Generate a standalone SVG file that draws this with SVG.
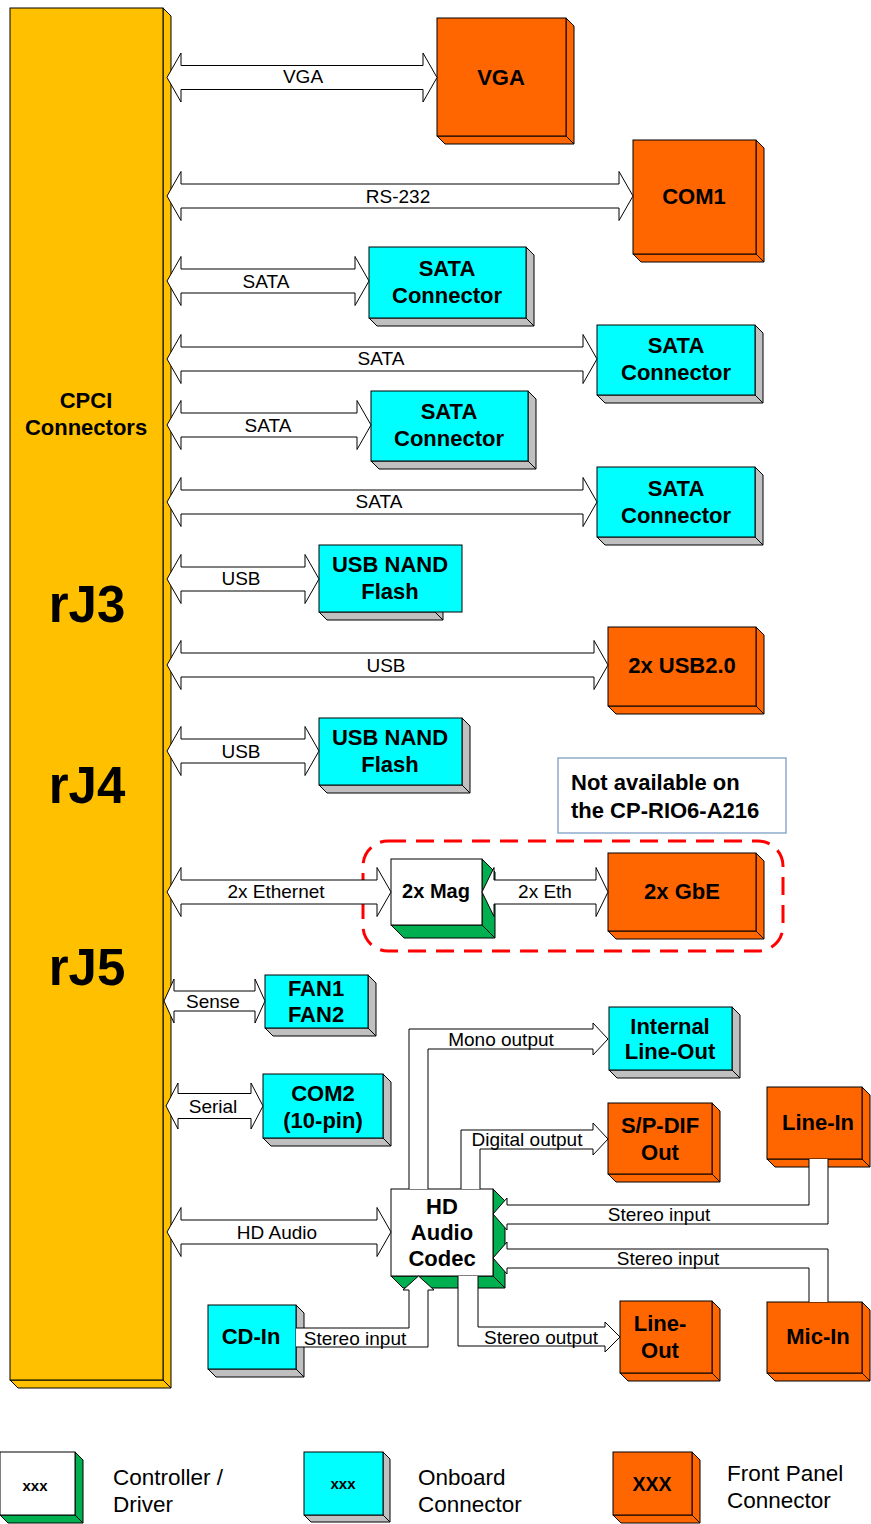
<svg xmlns="http://www.w3.org/2000/svg" width="871" height="1524" viewBox="0 0 871 1524">
<style>
.f{stroke:#000;stroke-width:1;stroke-linejoin:miter}
.y{fill:#FFC000}.o{fill:#FF6600}.c{fill:#00FFFF}.g{fill:#C0C0C0}.w{fill:#FFFFFF}.gr{fill:#00B050}
.a{fill:#FFFFFF;stroke:#000;stroke-width:1}
.l{font-family:"Liberation Sans",Arial,sans-serif;font-size:19px;text-anchor:middle;fill:#000}
.b{font-family:"Liberation Sans",Arial,sans-serif;font-size:22px;font-weight:bold;text-anchor:middle;fill:#000}
.big{font-family:"Liberation Sans",Arial,sans-serif;font-size:51px;font-weight:bold;text-anchor:middle;fill:#000}
.lg{font-family:"Liberation Sans",Arial,sans-serif;font-size:22.5px;fill:#000}
.nt{font-family:"Liberation Sans",Arial,sans-serif;font-size:22px;font-weight:bold;fill:#000}
</style>
<rect width="871" height="1524" fill="#FFFFFF"/>
<g id="cpci">
<polygon class="f y" points="163,8 171,16 171,1388 163,1380"/>
<polygon class="f y" points="10,1380 163,1380 171,1388 18,1388"/>
<rect class="f y" x="10" y="8" width="153" height="1372"/>
<text class="b" x="86" y="408">CPCI</text>
<text class="b" x="86" y="435">Connectors</text>
<text class="big" x="87" y="622">rJ3</text>
<text class="big" x="87" y="803">rJ4</text>
<text class="big" x="87" y="985">rJ5</text>
</g>
<g id="vga">
<polygon class="f o" points="566,18 574,26 574,144 566,136"/>
<polygon class="f o" points="437,136 566,136 574,144 445,144"/>
<rect class="f o" x="437" y="18" width="129" height="118"/>
<text class="b" x="501" y="85">VGA</text>
</g>
<g id="com1">
<polygon class="f o" points="756,140 764,148 764,262 756,254"/>
<polygon class="f o" points="633,254 756,254 764,262 641,262"/>
<rect class="f o" x="633" y="140" width="123" height="114"/>
<text class="b" x="694" y="204">COM1</text>
</g>
<g id="sata1">
<polygon class="f g" points="526,247 534,255 534,326 526,318"/>
<polygon class="f g" points="369,318 526,318 534,326 377,326"/>
<rect class="f c" x="369" y="247" width="157" height="71"/>
<text class="b" x="447" y="276">SATA</text>
<text class="b" x="447" y="303">Connector</text>
</g>
<g id="sata2">
<polygon class="f g" points="755,325 763,333 763,403 755,395"/>
<polygon class="f g" points="597,395 755,395 763,403 605,403"/>
<rect class="f c" x="597" y="325" width="158" height="70"/>
<text class="b" x="676" y="353">SATA</text>
<text class="b" x="676" y="380">Connector</text>
</g>
<g id="sata3">
<polygon class="f g" points="528,391 536,399 536,469 528,461"/>
<polygon class="f g" points="371,461 528,461 536,469 379,469"/>
<rect class="f c" x="371" y="391" width="157" height="70"/>
<text class="b" x="449" y="419">SATA</text>
<text class="b" x="449" y="446">Connector</text>
</g>
<g id="sata4">
<polygon class="f g" points="755,467 763,475 763,545 755,537"/>
<polygon class="f g" points="597,537 755,537 763,545 605,545"/>
<rect class="f c" x="597" y="467" width="158" height="70"/>
<text class="b" x="676" y="496">SATA</text>
<text class="b" x="676" y="523">Connector</text>
</g>
<g id="nand1">
<polygon class="f g" points="435,545 443,553 443,620 435,612"/>
<polygon class="f g" points="319,612 435,612 443,620 327,620"/>
<rect class="f c" x="319" y="545" width="143" height="67"/>
<text class="b" x="390" y="572">USB NAND</text>
<text class="b" x="390" y="599">Flash</text>
</g>
<g id="usb20">
<polygon class="f o" points="756,627 764,635 764,714 756,706"/>
<polygon class="f o" points="608,706 756,706 764,714 616,714"/>
<rect class="f o" x="608" y="627" width="148" height="79"/>
<text class="b" x="682" y="673">2x USB2.0</text>
</g>
<g id="nand2">
<polygon class="f g" points="462,718 470,726 470,793 462,785"/>
<polygon class="f g" points="319,785 462,785 470,793 327,793"/>
<rect class="f c" x="319" y="718" width="143" height="67"/>
<text class="b" x="390" y="745">USB NAND</text>
<text class="b" x="390" y="772">Flash</text>
</g>
<g id="note">
<rect x="558" y="758" width="228" height="75" fill="#FFFFFF" stroke="#8FAACC" stroke-width="1.5"/>
<text class="nt" x="571" y="790">Not available on</text>
<text class="nt" x="571" y="818">the CP-RIO6-A216</text>
</g>
<g id="na-area">
<rect x="363" y="841" width="420" height="110" rx="25" ry="25" fill="none" stroke="#FF0000" stroke-width="3" stroke-dasharray="18 10"/>
</g>
<g id="mag">
<polygon class="f gr" points="482,859 495,872 495,938 482,925"/>
<polygon class="f gr" points="391,925 482,925 495,938 404,938"/>
<rect class="f w" x="391" y="859" width="91" height="66"/>
<text class="b" x="436" y="898" style="font-size:20px">2x Mag</text>
</g>
<g id="gbe">
<polygon class="f o" points="756,853 764,861 764,939 756,931"/>
<polygon class="f o" points="608,931 756,931 764,939 616,939"/>
<rect class="f o" x="608" y="853" width="148" height="78"/>
<text class="b" x="682" y="899">2x GbE</text>
</g>
<g id="fan">
<polygon class="f g" points="368,975 376,983 376,1036 368,1028"/>
<polygon class="f g" points="265,1028 368,1028 376,1036 273,1036"/>
<rect class="f c" x="265" y="975" width="103" height="53"/>
<text class="b" x="316" y="996">FAN1</text>
<text class="b" x="316" y="1022">FAN2</text>
</g>
<g id="com2">
<polygon class="f g" points="383,1074 391,1082 391,1146 383,1138"/>
<polygon class="f g" points="263,1138 383,1138 391,1146 271,1146"/>
<rect class="f c" x="263" y="1074" width="120" height="64"/>
<text class="b" x="323" y="1101">COM2</text>
<text class="b" x="323" y="1128">(10-pin)</text>
</g>
<g id="ilo">
<polygon class="f g" points="732,1007 740,1015 740,1078 732,1070"/>
<polygon class="f g" points="609,1070 732,1070 740,1078 617,1078"/>
<rect class="f c" x="609" y="1007" width="123" height="63"/>
<text class="b" x="670" y="1034">Internal</text>
<text class="b" x="670" y="1059">Line-Out</text>
</g>
<g id="spdif">
<polygon class="f o" points="712,1103 720,1111 720,1182 712,1174"/>
<polygon class="f o" points="608,1174 712,1174 720,1182 616,1182"/>
<rect class="f o" x="608" y="1103" width="104" height="71"/>
<text class="b" x="660" y="1133">S/P-DIF</text>
<text class="b" x="660" y="1160">Out</text>
</g>
<g id="linein">
<polygon class="f o" points="862,1087 870,1095 870,1167 862,1159"/>
<polygon class="f o" points="767,1159 862,1159 870,1167 775,1167"/>
<rect class="f o" x="767" y="1087" width="95" height="72"/>
<text class="b" x="818" y="1130">Line-In</text>
</g>
<g id="codec">
<polygon class="f gr" points="493,1189 505,1201 505,1288 493,1276"/>
<polygon class="f gr" points="391,1276 493,1276 505,1288 403,1288"/>
<rect class="f w" x="391" y="1189" width="102" height="87"/>
<text class="b" x="442" y="1214">HD</text>
<text class="b" x="442" y="1240">Audio</text>
<text class="b" x="442" y="1266">Codec</text>
</g>
<g id="lineout">
<polygon class="f o" points="712,1301 720,1309 720,1381 712,1373"/>
<polygon class="f o" points="620,1373 712,1373 720,1381 628,1381"/>
<rect class="f o" x="620" y="1301" width="92" height="72"/>
<text class="b" x="660" y="1331">Line-</text>
<text class="b" x="660" y="1358">Out</text>
</g>
<g id="micin">
<polygon class="f o" points="862,1302 870,1310 870,1381 862,1373"/>
<polygon class="f o" points="767,1373 862,1373 870,1381 775,1381"/>
<rect class="f o" x="767" y="1302" width="95" height="71"/>
<text class="b" x="818" y="1344">Mic-In</text>
</g>
<g id="cdin">
<polygon class="f g" points="296,1305 304,1313 304,1377 296,1369"/>
<polygon class="f g" points="208,1369 296,1369 304,1377 216,1377"/>
<rect class="f c" x="208" y="1305" width="88" height="64"/>
<text class="b" x="251" y="1344">CD-In</text>
</g>
<g id="connectors">
<path class="a" d="M167,77.5 L181,53 L181,65.5 L423,65.5 L423,53 L437,77.5 L423,102 L423,89.5 L181,89.5 L181,102 Z"/>
<path class="a" d="M167,196 L181,171.5 L181,184 L619,184 L619,171.5 L633,196 L619,220.5 L619,208 L181,208 L181,220.5 Z"/>
<path class="a" d="M167,281 L181,256.5 L181,269 L355,269 L355,256.5 L369,281 L355,305.5 L355,293 L181,293 L181,305.5 Z"/>
<path class="a" d="M167,359 L181,334.5 L181,347 L583,347 L583,334.5 L597,359 L583,383.5 L583,371 L181,371 L181,383.5 Z"/>
<path class="a" d="M167,425 L181,400.5 L181,413 L357,413 L357,400.5 L371,425 L357,449.5 L357,437 L181,437 L181,449.5 Z"/>
<path class="a" d="M167,502 L181,477.5 L181,490 L583,490 L583,477.5 L597,502 L583,526.5 L583,514 L181,514 L181,526.5 Z"/>
<path class="a" d="M167,579 L181,554.5 L181,567 L305,567 L305,554.5 L319,579 L305,603.5 L305,591 L181,591 L181,603.5 Z"/>
<path class="a" d="M167,665 L181,640.5 L181,653 L594,653 L594,640.5 L608,665 L594,689.5 L594,677 L181,677 L181,689.5 Z"/>
<path class="a" d="M167,751 L181,726.5 L181,739 L305,739 L305,726.5 L319,751 L305,775.5 L305,763 L181,763 L181,775.5 Z"/>
<path class="a" d="M167,892 L181,867.5 L181,880 L377,880 L377,867.5 L391,892 L377,916.5 L377,904 L181,904 L181,916.5 Z"/>
<path class="a" d="M482,892 L494,867.5 L494,880 L596,880 L596,867.5 L608,892 L596,916.5 L596,904 L494,904 L494,916.5 Z"/>
<path class="a" d="M164,1001 L174,979 L174,991 L255,991 L255,979 L265,1001 L255,1023 L255,1011 L174,1011 L174,1023 Z"/>
<path class="a" d="M166,1106 L178,1083 L178,1093.5 L251,1093.5 L251,1083 L263,1106 L251,1129 L251,1118.5 L178,1118.5 L178,1129 Z"/>
<path class="a" d="M167,1232 L181,1207.5 L181,1220 L377,1220 L377,1207.5 L391,1232 L377,1256.5 L377,1244 L181,1244 L181,1256.5 Z"/>
<path class="a" d="M409,1189 L409,1029 L593,1029 L593,1023 L608,1039 L593,1055 L593,1049 L428,1049 L428,1189"/>
<path class="a" d="M461,1189 L461,1130 L593,1130 L593,1123 L608,1139 L593,1155 L593,1149 L480,1149 L480,1189"/>
<path class="a" d="M809,1159 L809,1205 L507,1205 L507,1198 L493,1214 L507,1230 L507,1224 L828,1224 L828,1159"/>
<path class="a" d="M828,1302 L828,1249 L507,1249 L507,1242 L493,1258 L507,1274 L507,1268 L809,1268 L809,1302"/>
<path class="a" d="M296,1328 L409,1328 L409,1290 L403,1290 L418.5,1276 L434,1290 L428,1290 L428,1347 L296,1347"/>
<path class="a" d="M458,1276 L458,1346 L605,1346 L605,1352 L620,1337 L605,1322 L605,1327 L478,1327 L478,1276"/>
<text class="l" x="303" y="83">VGA</text>
<text class="l" x="398" y="203">RS-232</text>
<text class="l" x="266" y="288">SATA</text>
<text class="l" x="381" y="365">SATA</text>
<text class="l" x="268" y="432">SATA</text>
<text class="l" x="379" y="508">SATA</text>
<text class="l" x="241" y="585">USB</text>
<text class="l" x="386" y="672">USB</text>
<text class="l" x="241" y="758">USB</text>
<text class="l" x="276" y="898">2x Ethernet</text>
<text class="l" x="545" y="898">2x Eth</text>
<text class="l" x="213" y="1008">Sense</text>
<text class="l" x="213" y="1113">Serial</text>
<text class="l" x="277" y="1239">HD Audio</text>
<text class="l" x="501" y="1046">Mono output</text>
<text class="l" x="527" y="1146">Digital output</text>
<text class="l" x="659" y="1221">Stereo input</text>
<text class="l" x="668" y="1265">Stereo input</text>
<text class="l" x="355" y="1345">Stereo input</text>
<text class="l" x="541" y="1344">Stereo output</text>
</g>
<g id="legend-controller">
<polygon class="f gr" points="75,1452 83,1460 83,1523 75,1515"/>
<polygon class="f gr" points="0,1515 75,1515 83,1523 8,1523"/>
<rect class="f w" x="0" y="1452" width="75" height="63"/>
<text class="b" x="35" y="1491" style="font-size:15px">xxx</text>
<text class="lg" x="113" y="1485">Controller /</text>
<text class="lg" x="113" y="1512">Driver</text>
</g>
<g id="legend-onboard">
<polygon class="f g" points="383,1452 390,1459 390,1522 383,1515"/>
<polygon class="f g" points="304,1515 383,1515 390,1522 311,1522"/>
<rect class="f c" x="304" y="1452" width="79" height="63"/>
<text class="b" x="343" y="1489" style="font-size:15px">xxx</text>
<text class="lg" x="418" y="1485">Onboard</text>
<text class="lg" x="418" y="1512">Connector</text>
</g>
<g id="legend-frontpanel">
<polygon class="f o" points="692,1452 700,1460 700,1523 692,1515"/>
<polygon class="f o" points="613,1515 692,1515 700,1523 621,1523"/>
<rect class="f o" x="613" y="1452" width="79" height="63"/>
<text class="b" x="652" y="1491" style="font-size:19.5px">XXX</text>
<text class="lg" x="727" y="1481">Front Panel</text>
<text class="lg" x="727" y="1508">Connector</text>
</g>
</svg>
